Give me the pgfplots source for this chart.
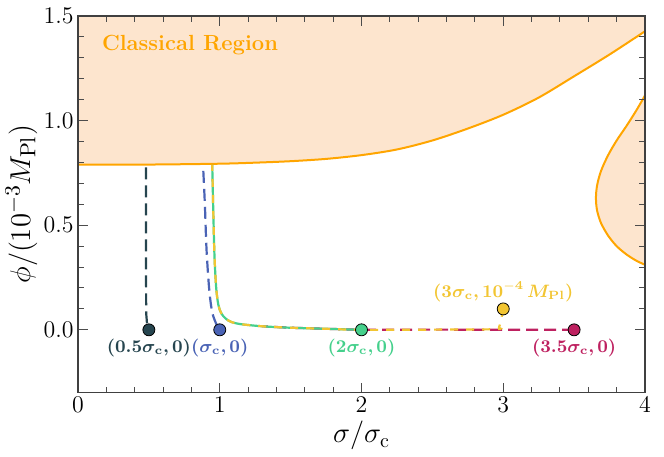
\documentclass[border=0pt]{standalone}
\usepackage{pgfplots}
\pgfplotsset{compat=1.18}

\DeclareSymbolFont{boldletters}{OML}{cmm}{b}{it}
\DeclareMathSymbol{\bsigma}{\mathord}{boldletters}{"1B}
\DeclareMathSymbol{\bM}{\mathalpha}{boldletters}{`M}

\definecolor{peach}{HTML}{FDE5CE}
\definecolor{orng}{HTML}{FFA500}
\definecolor{cslate}{HTML}{26454F}
\definecolor{cblue}{HTML}{4A63B5}
\definecolor{cgreen}{HTML}{45D08C}
\definecolor{cyell}{HTML}{F2C532}
\definecolor{ccrim}{HTML}{BE2160}

\pgfplotsset{
    startpt/.style={#1, only marks, mark=*, mark size=3bp,
        mark options={fill=#1, draw=black, line width=0.4bp},
        every node near coord/.append style={anchor=center, yshift=-8.9bp,
            font=\fontsize{9}{10}\selectfont}},
}

\begin{document}
\begin{tikzpicture}
\begin{axis}[
    scale only axis,
    width=283.5bp, height=188.3bp,
    xmin=0, xmax=4,
    ymin=-0.3, ymax=1.5,
    xtick={0,1,2,3,4},
    ytick={0,0.5,1,1.5},
    minor x tick num=4,
    minor y tick num=4,
    tick align=inside,
    major tick length=5bp,
    minor tick length=3bp,
    every tick/.append style={black!70, line width=0.5bp},
    axis line style={black!75, line width=0.6bp},
    axis on top,
    tick label style={font=\fontsize{12.8}{14}\selectfont, inner sep=2bp},
    yticklabel style={/pgf/number format/fixed, /pgf/number format/fixed zerofill, /pgf/number format/precision=1},
    xlabel style={font=\fontsize{14}{15}\selectfont, yshift=1bp},
    ylabel style={font=\fontsize{15}{16}\selectfont, inner sep=1bp},
    xlabel={$\sigma/\sigma_{\mathrm{c}}$},
    ylabel={$\phi/(10^{-3}M_{\mathrm{Pl}})$},
]

% classical region, upper part
\addplot[fill=peach, draw=none] coordinates {
    (0,0.790) (0.5,0.790) (1.0,0.794) (1.25,0.799) (1.5,0.806) (1.75,0.817)
    (2.0,0.835) (2.25,0.862) (2.5,0.905) (2.75,0.962) (3.0,1.028) (3.25,1.110)
    (3.5,1.212) (3.75,1.316) (4.0,1.427) (4.0,1.5) (0,1.5) (0,0.790)};
\addplot[orng, line width=1bp, smooth] coordinates {
    (0,0.790) (0.5,0.790) (1.0,0.794) (1.25,0.799) (1.5,0.806) (1.75,0.817)
    (2.0,0.835) (2.25,0.862) (2.5,0.905) (2.75,0.962) (3.0,1.028) (3.25,1.110)
    (3.5,1.212) (3.75,1.316) (4.0,1.427)};

% classical region, right lobe
\addplot[fill=peach, draw=none] coordinates {
    (4.0,1.12) (3.94,1.05) (3.87,0.975) (3.80,0.905) (3.74,0.835) (3.69,0.76)
    (3.662,0.69) (3.654,0.63) (3.662,0.57) (3.69,0.51) (3.74,0.45) (3.80,0.40)
    (3.87,0.36) (3.94,0.33) (4.0,0.311) (4.0,1.12)};
\addplot[orng, line width=1bp, smooth] coordinates {
    (4.0,1.12) (3.94,1.05) (3.87,0.975) (3.80,0.905) (3.74,0.835) (3.69,0.76)
    (3.662,0.69) (3.654,0.63) (3.662,0.57) (3.69,0.51) (3.74,0.45) (3.80,0.40)
    (3.87,0.36) (3.94,0.33) (4.0,0.311)};

\addplot[orng, only marks, mark=none, nodes near coords={\bfseries Classical Region},
    every node near coord/.append style={anchor=base west, inner sep=0pt,
        font=\fontsize{11}{12}\selectfont}] coordinates {(0.167,1.335)};

% trajectories
\addplot[cslate, line width=1.1bp, dash pattern=on 6bp off 3bp] coordinates {
    (0.48,0.777) (0.48,0.3) (0.481,0.08) (0.488,0.02) (0.5,0)};
\addplot[cblue, line width=1.1bp, dash pattern=on 6bp off 3bp, smooth] coordinates {
    (0.884,0.76) (0.895,0.6) (0.907,0.38) (0.926,0.19) (0.945,0.09) (0.965,0.045) (0.985,0.015) (1,0)};
\addplot[ccrim, line width=1.1bp, dash pattern=on 6bp off 3bp] coordinates {
    (3.5,0) (2.5,0.001) (2,0) (1.75,0.005) (1.5,0.01) (1.3,0.017)};
\addplot[cgreen, line width=1.1bp, smooth] coordinates {
    (2,0) (1.75,0.005) (1.5,0.01) (1.3,0.017) (1.15,0.027) (1.08,0.038) (1.04,0.055)
    (1.01,0.08) (0.99,0.12) (0.975,0.2) (0.963,0.35) (0.955,0.55) (0.947,0.788)};
\addplot[cyell, line width=1.1bp, dash pattern=on 4bp off 4bp, smooth] coordinates {
    (3,0.1) (2.985,0.05) (2.97,0.012) (2.95,0.003) (2.5,0.001) (2,0)
    (1.75,0.005) (1.5,0.01) (1.3,0.017) (1.15,0.027) (1.08,0.038) (1.04,0.055)
    (1.01,0.08) (0.99,0.12) (0.975,0.2) (0.963,0.35) (0.955,0.55) (0.947,0.788)};

% starting points with labels
\addplot[startpt=cslate, nodes near coords={\bfseries (0.5$\bsigma_{\mathbf{c}}$,\,0)}] coordinates {(0.5,0)};
\addplot[startpt=cblue, nodes near coords={\bfseries ($\bsigma_{\mathbf{c}}$,\,0)}] coordinates {(1,0)};
\addplot[startpt=cgreen, nodes near coords={\bfseries (2$\bsigma_{\mathbf{c}}$,\,0)}] coordinates {(2,0)};
\addplot[startpt=ccrim, nodes near coords={\bfseries (3.5$\bsigma_{\mathbf{c}}$,\,0)}] coordinates {(3.5,0)};
\addplot[startpt=cyell, nodes near coords={\bfseries (3$\bsigma_{\mathbf{c}}$,\,10$^{\mathbf{-4}}\,\bM_{\mathbf{Pl}}$)},
    every node near coord/.append style={yshift=17.3bp}] coordinates {(3,0.1)};
\end{axis}
\path (-39bp,-30.65bp) rectangle (293bp,196.3bp);
\end{tikzpicture}
\end{document}
